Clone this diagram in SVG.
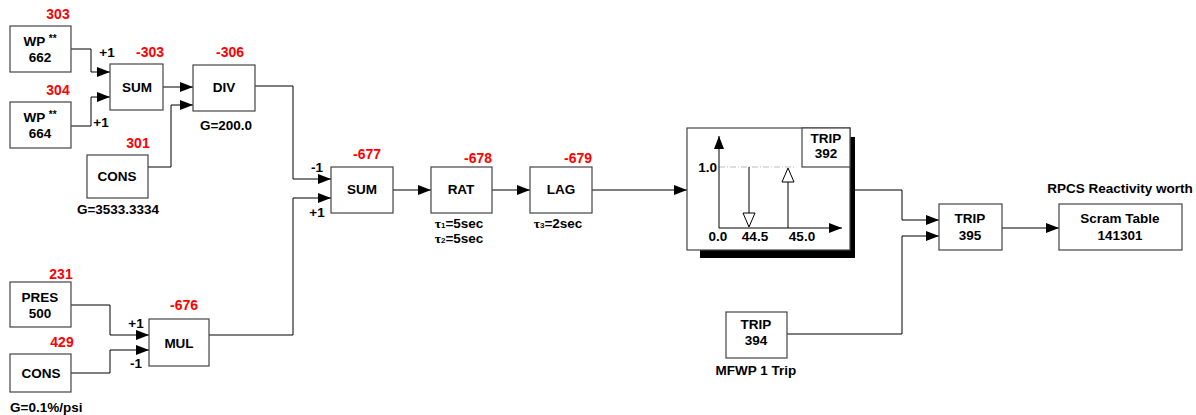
<svg xmlns="http://www.w3.org/2000/svg" width="1196" height="415" viewBox="0 0 1196 415">
<defs>
<style>
.box{fill:#fff;stroke:#444;stroke-width:1.2}
.t{font-family:"Liberation Sans",Arial,sans-serif;font-weight:bold;font-size:13.5px;fill:#000;text-anchor:middle}
.st{text-anchor:start}
.en{text-anchor:end}
.r{font-family:"Liberation Sans",Arial,sans-serif;font-weight:bold;font-size:14px;fill:#ff0000;text-anchor:middle}
.w{fill:none;stroke:#000;stroke-width:1}
.tau{font-family:"Liberation Serif","Times New Roman",serif;font-weight:bold}
</style>
<marker id="ah" markerUnits="userSpaceOnUse" markerWidth="14" markerHeight="10" refX="13" refY="5" orient="auto">
<path d="M0,0 L13,5 L0,10 Z" fill="#000"/>
</marker>
</defs>

<g id="connectors">
<polyline class="w" points="71,49 91,49 91,72 110,72" marker-end="url(#ah)"/>
<polyline class="w" points="71,126 91,126 91,97 110,97" marker-end="url(#ah)"/>
<polyline class="w" points="163,87 193,87" marker-end="url(#ah)"/>
<polyline class="w" points="148,167 171,167 171,105 193,105" marker-end="url(#ah)"/>
<polyline class="w" points="255,86 293,86 293,179 331,179" marker-end="url(#ah)"/>
<polyline class="w" points="209,335 293,335 293,198 331,198" marker-end="url(#ah)"/>
<polyline class="w" points="71,305 110,305 110,335 149,335" marker-end="url(#ah)"/>
<polyline class="w" points="71,373 110,373 110,350 149,350" marker-end="url(#ah)"/>
<polyline class="w" points="393,190 431,190" marker-end="url(#ah)"/>
<polyline class="w" points="492,190 530,190" marker-end="url(#ah)"/>
<polyline class="w" points="592,190 687,190" marker-end="url(#ah)"/>
<polyline class="w" points="850,190 902,190 902,220 939,220" marker-end="url(#ah)"/>
<polyline class="w" points="787,334 902,334 902,236 939,236" marker-end="url(#ah)"/>
<polyline class="w" points="1002,228 1059,228" marker-end="url(#ah)"/>
</g>

<g id="wp662">
<rect class="box" x="10" y="26" width="61" height="46"/>
<text class="r" x="58" y="19">303</text>
<text class="t" x="40" y="46">WP <tspan font-size="10" dy="-4">**</tspan></text>
<text class="t" x="40" y="62">662</text>
</g>
<g id="wp664">
<rect class="box" x="10" y="102" width="61" height="46"/>
<text class="r" x="58" y="95">304</text>
<text class="t" x="40" y="122">WP <tspan font-size="10" dy="-4">**</tspan></text>
<text class="t" x="40" y="138">664</text>
</g>
<g id="labels-sum1">
<text class="t" x="107" y="57">+1</text>
<text class="t" x="101" y="127">+1</text>
</g>
<g id="sum303">
<rect class="box" x="110" y="64" width="53" height="46"/>
<text class="r" x="150" y="57">-303</text>
<text class="t" x="137" y="92">SUM</text>
</g>
<g id="div306">
<rect class="box" x="193" y="65" width="62" height="46"/>
<text class="r" x="230" y="57">-306</text>
<text class="t" x="224" y="92">DIV</text>
<text class="t" x="226" y="130">G=200.0</text>
</g>
<g id="cons301">
<rect class="box" x="87" y="155" width="61" height="43"/>
<text class="r" x="138" y="148">301</text>
<text class="t" x="117" y="181">CONS</text>
<text class="t" x="118" y="214">G=3533.3334</text>
</g>
<g id="pres500">
<rect class="box" x="10" y="282" width="61" height="45"/>
<text class="r" x="61" y="279">231</text>
<text class="t" x="40" y="302">PRES</text>
<text class="t" x="40" y="318">500</text>
</g>
<g id="cons429">
<rect class="box" x="10" y="354" width="61" height="38"/>
<text class="r" x="62" y="347">429</text>
<text class="t" x="41" y="378">CONS</text>
<text class="t st" x="10" y="412">G=0.1%/psi</text>
</g>
<g id="mul676">
<rect class="box" x="149" y="319" width="60" height="47"/>
<text class="r" x="184" y="310">-676</text>
<text class="t" x="179" y="348">MUL</text>
<text class="t" x="136" y="328">+1</text>
<text class="t" x="136" y="368">-1</text>
</g>
<g id="sum677">
<rect class="box" x="331" y="167" width="62" height="46"/>
<text class="r" x="367" y="159">-677</text>
<text class="t" x="362" y="194">SUM</text>
<text class="t" x="317" y="172">-1</text>
<text class="t" x="317" y="217">+1</text>
</g>
<g id="rat678">
<rect class="box" x="431" y="167" width="61" height="46"/>
<text class="r" x="478" y="163">-678</text>
<text class="t" x="461" y="194">RAT</text>
<text class="t" x="459" y="228"><tspan class="tau">τ</tspan><tspan font-size="8">1</tspan>=5sec</text>
<text class="t" x="459" y="243"><tspan class="tau">τ</tspan><tspan font-size="8">2</tspan>=5sec</text>
</g>
<g id="lag679">
<rect class="box" x="530" y="167" width="62" height="46"/>
<text class="r" x="578" y="163">-679</text>
<text class="t" x="561" y="194">LAG</text>
<text class="t" x="558" y="228"><tspan class="tau">τ</tspan><tspan font-size="8">3</tspan>=2sec</text>
</g>
<g id="trip392">
<rect x="700" y="137" width="155" height="121" fill="#000"/>
<rect class="box" x="687" y="128" width="163" height="122"/>
<rect class="box" x="802" y="128" width="48" height="39"/>
<text class="t" x="826" y="143">TRIP</text>
<text class="t" x="826" y="158">392</text>
<line x1="719" y1="167" x2="795" y2="167" stroke="#bbb" stroke-width="1.2" stroke-dasharray="6,2,1,2"/>
<line class="w" x1="719" y1="228" x2="719" y2="136" marker-end="url(#ah)"/>
<line class="w" x1="719" y1="228" x2="842" y2="228" marker-end="url(#ah)"/>
<line class="w" x1="749" y1="167" x2="749" y2="214"/>
<path d="M743,213 L755,213 L749,227 Z" fill="#fff" stroke="#000"/>
<line class="w" x1="788" y1="228" x2="788" y2="181"/>
<path d="M782,182 L794,182 L788,168 Z" fill="#fff" stroke="#000"/>
<text class="t en" x="717" y="172">1.0</text>
<text class="t" x="718" y="241">0.0</text>
<text class="t" x="755" y="241">44.5</text>
<text class="t" x="802" y="241">45.0</text>
</g>
<g id="trip395">
<rect class="box" x="939" y="204" width="63" height="46"/>
<text class="t" x="970" y="223">TRIP</text>
<text class="t" x="970" y="240">395</text>
</g>
<g id="scram">
<text class="t" x="1120" y="193">RPCS Reactivity worth</text>
<rect class="box" x="1059" y="204" width="123" height="46"/>
<text class="t" x="1120" y="223">Scram Table</text>
<text class="t" x="1120" y="240">141301</text>
</g>
<g id="trip394">
<rect class="box" x="726" y="312" width="61" height="46"/>
<text class="t" x="756" y="329">TRIP</text>
<text class="t" x="756" y="345">394</text>
<text class="t" x="756" y="375">MFWP 1 Trip</text>
</g>
</svg>
